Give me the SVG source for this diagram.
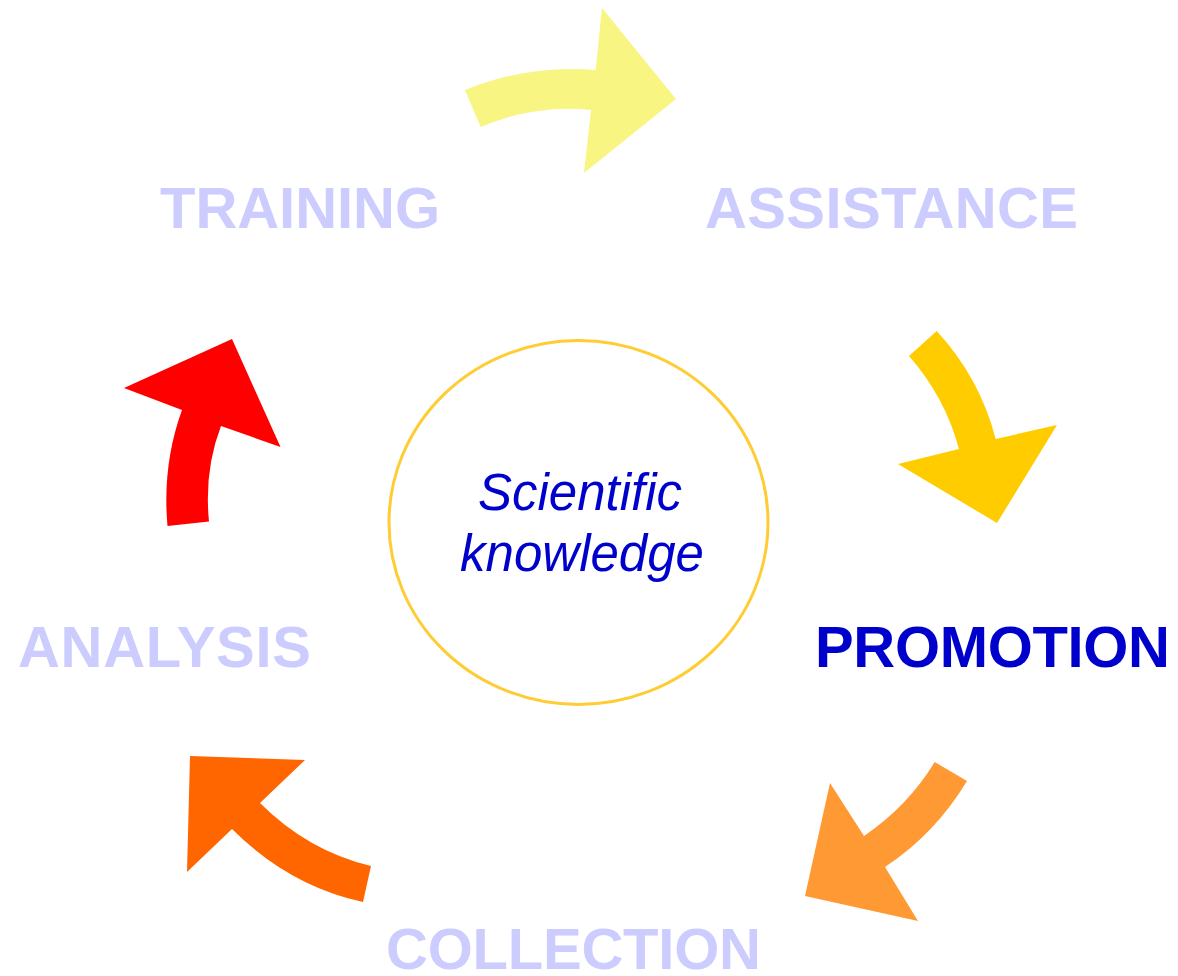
<svg xmlns="http://www.w3.org/2000/svg" width="1178" height="976" viewBox="0 0 1178 976">
<style>
.lbl{font-family:"Liberation Sans",Arial,sans-serif;font-weight:bold;font-size:58px;fill:#CCCCFF}
.act{fill:#0000CC}
.center{font-family:"Liberation Sans",Arial,sans-serif;font-style:italic;font-size:51px;fill:#0000CC;text-anchor:middle}
</style>
<rect width="1178" height="976" fill="#FFFFFF"/>
<g id="connectors">
<path id="arrow-training-assistance" d="M465,90 Q530,64 595.7,70 L602,8 L676,99 L584,173 L591,110 Q535,104 480.7,127 Z" fill="#F8F582"/>
<path id="arrow-assistance-promotion" d="M936.7,331 Q980,378 995.7,439 L1057,425 L997,523 L898,464 L959,449 Q945,397 909,356 Z" fill="#FFCC00"/>
<path id="arrow-promotion-collection" d="M967,781 Q935,834 885,867 L918,921 L805,896 L830,783 L864,836 Q908,806 934.7,762 Z" fill="#FF9933"/>
<path id="arrow-collection-analysis" d="M190,756 L305,760 L260,803 Q308,851 371,866 L363,902 Q289,886 232,829 L187,872 Z" fill="#FF6600"/>
<path id="arrow-analysis-training" d="M232,339 L280.5,447 L221,426 Q204,470 209,521.5 L167.5,526 Q162,465 182,410 L124,388 Z" fill="#FF0000"/>
</g>
<g id="node-center">
<ellipse cx="578.5" cy="522.5" rx="189.5" ry="182" fill="none" stroke="#FFCC33" stroke-width="3"/>
<text class="center" x="580" y="510">Scientific</text>
<text class="center" x="582" y="571">knowledge</text>
</g>
<g id="node-training"><text class="lbl" x="160" y="228" textLength="280">TRAINING</text></g>
<g id="node-assistance"><text class="lbl" x="705" y="228" textLength="373">ASSISTANCE</text></g>
<g id="node-promotion"><text class="lbl act" x="815" y="667" textLength="355">PROMOTION</text></g>
<g id="node-analysis"><text class="lbl" x="18" y="667" textLength="293">ANALYSIS</text></g>
<g id="node-collection"><text class="lbl" x="386" y="969" textLength="375">COLLECTION</text></g>
</svg>
